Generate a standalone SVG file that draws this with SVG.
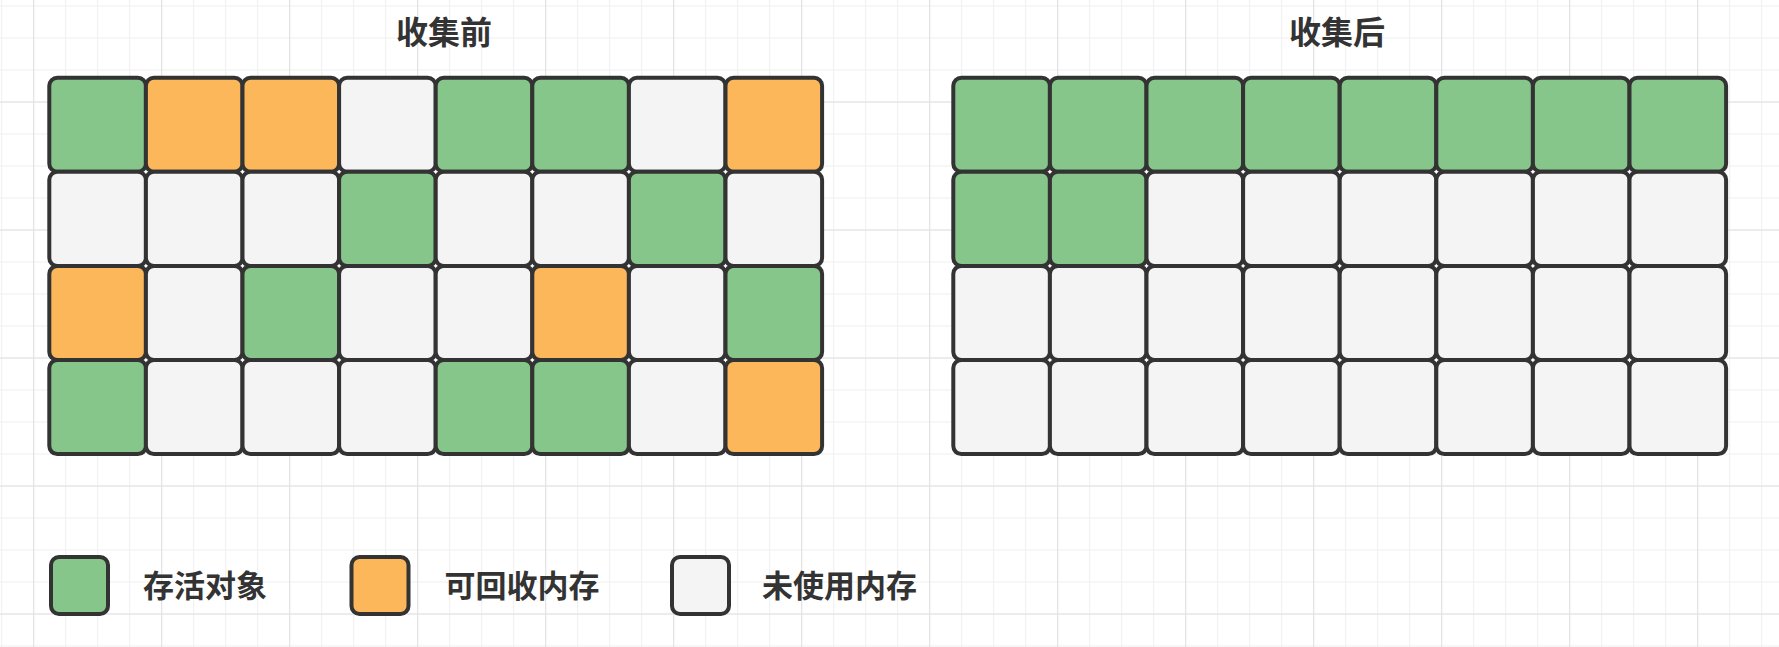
<svg xmlns="http://www.w3.org/2000/svg" width="1779" height="647" viewBox="0 0 1779 647">
<defs>
<pattern id="minor" patternUnits="userSpaceOnUse" x="1.2" y="5.5" width="32" height="32"><path d="M0.5 0V32M0 0.5H32" stroke="#efefef" stroke-width="1" fill="none"/></pattern>
<pattern id="major" patternUnits="userSpaceOnUse" x="33.2" y="101.5" width="128" height="128"><path d="M0.5 0V128M0 0.5H128" stroke="#e1e1e1" stroke-width="1" fill="none"/></pattern>
<style>
.c{stroke:#333333;stroke-width:4}
.g{fill:#86c68a}
.o{fill:#fcb75b}
.w{fill:#f4f4f4}
.t{font-family:"Noto Sans CJK SC","Noto Sans",sans-serif;fill:#333333}
.title{font-size:32px;font-weight:bold;text-anchor:middle}
.lg{font-size:31px;font-weight:bold}
</style>
</defs>
<rect width="1779" height="647" fill="#ffffff"/>
<rect width="1779" height="647" fill="url(#minor)"/>
<rect width="1779" height="647" fill="url(#major)"/>

<g id="title-before"><text class="t title" x="444" y="44">收集前</text></g>
<g id="title-after"><text class="t title" x="1337" y="44">收集后</text></g>

<g id="grid-before">
<!-- row 1: G O O W G G W O -->
<rect class="c g" x="49.3" y="77.7" width="96.6" height="94.1" rx="8"/>
<rect class="c o" x="145.9" y="77.7" width="96.6" height="94.1" rx="8"/>
<rect class="c o" x="242.5" y="77.7" width="96.6" height="94.1" rx="8"/>
<rect class="c w" x="339.1" y="77.7" width="96.6" height="94.1" rx="8"/>
<rect class="c g" x="435.7" y="77.7" width="96.6" height="94.1" rx="8"/>
<rect class="c g" x="532.3" y="77.7" width="96.6" height="94.1" rx="8"/>
<rect class="c w" x="628.9" y="77.7" width="96.6" height="94.1" rx="8"/>
<rect class="c o" x="725.5" y="77.7" width="96.6" height="94.1" rx="8"/>
<!-- row 2: W W W G W W G W -->
<rect class="c w" x="49.3" y="171.8" width="96.6" height="94.1" rx="8"/>
<rect class="c w" x="145.9" y="171.8" width="96.6" height="94.1" rx="8"/>
<rect class="c w" x="242.5" y="171.8" width="96.6" height="94.1" rx="8"/>
<rect class="c g" x="339.1" y="171.8" width="96.6" height="94.1" rx="8"/>
<rect class="c w" x="435.7" y="171.8" width="96.6" height="94.1" rx="8"/>
<rect class="c w" x="532.3" y="171.8" width="96.6" height="94.1" rx="8"/>
<rect class="c g" x="628.9" y="171.8" width="96.6" height="94.1" rx="8"/>
<rect class="c w" x="725.5" y="171.8" width="96.6" height="94.1" rx="8"/>
<!-- row 3: O W G W W O W G -->
<rect class="c o" x="49.3" y="265.9" width="96.6" height="94.1" rx="8"/>
<rect class="c w" x="145.9" y="265.9" width="96.6" height="94.1" rx="8"/>
<rect class="c g" x="242.5" y="265.9" width="96.6" height="94.1" rx="8"/>
<rect class="c w" x="339.1" y="265.9" width="96.6" height="94.1" rx="8"/>
<rect class="c w" x="435.7" y="265.9" width="96.6" height="94.1" rx="8"/>
<rect class="c o" x="532.3" y="265.9" width="96.6" height="94.1" rx="8"/>
<rect class="c w" x="628.9" y="265.9" width="96.6" height="94.1" rx="8"/>
<rect class="c g" x="725.5" y="265.9" width="96.6" height="94.1" rx="8"/>
<!-- row 4: G W W W G G W O -->
<rect class="c g" x="49.3" y="360" width="96.6" height="94.1" rx="8"/>
<rect class="c w" x="145.9" y="360" width="96.6" height="94.1" rx="8"/>
<rect class="c w" x="242.5" y="360" width="96.6" height="94.1" rx="8"/>
<rect class="c w" x="339.1" y="360" width="96.6" height="94.1" rx="8"/>
<rect class="c g" x="435.7" y="360" width="96.6" height="94.1" rx="8"/>
<rect class="c g" x="532.3" y="360" width="96.6" height="94.1" rx="8"/>
<rect class="c w" x="628.9" y="360" width="96.6" height="94.1" rx="8"/>
<rect class="c o" x="725.5" y="360" width="96.6" height="94.1" rx="8"/>
</g>

<g id="grid-after">
<!-- row 1: all G -->
<rect class="c g" x="953.3" y="77.7" width="96.6" height="94.1" rx="8"/>
<rect class="c g" x="1049.9" y="77.7" width="96.6" height="94.1" rx="8"/>
<rect class="c g" x="1146.5" y="77.7" width="96.6" height="94.1" rx="8"/>
<rect class="c g" x="1243.1" y="77.7" width="96.6" height="94.1" rx="8"/>
<rect class="c g" x="1339.7" y="77.7" width="96.6" height="94.1" rx="8"/>
<rect class="c g" x="1436.3" y="77.7" width="96.6" height="94.1" rx="8"/>
<rect class="c g" x="1532.9" y="77.7" width="96.6" height="94.1" rx="8"/>
<rect class="c g" x="1629.5" y="77.7" width="96.6" height="94.1" rx="8"/>
<!-- row 2: G G W W W W W W -->
<rect class="c g" x="953.3" y="171.8" width="96.6" height="94.1" rx="8"/>
<rect class="c g" x="1049.9" y="171.8" width="96.6" height="94.1" rx="8"/>
<rect class="c w" x="1146.5" y="171.8" width="96.6" height="94.1" rx="8"/>
<rect class="c w" x="1243.1" y="171.8" width="96.6" height="94.1" rx="8"/>
<rect class="c w" x="1339.7" y="171.8" width="96.6" height="94.1" rx="8"/>
<rect class="c w" x="1436.3" y="171.8" width="96.6" height="94.1" rx="8"/>
<rect class="c w" x="1532.9" y="171.8" width="96.6" height="94.1" rx="8"/>
<rect class="c w" x="1629.5" y="171.8" width="96.6" height="94.1" rx="8"/>
<!-- row 3: all W -->
<rect class="c w" x="953.3" y="265.9" width="96.6" height="94.1" rx="8"/>
<rect class="c w" x="1049.9" y="265.9" width="96.6" height="94.1" rx="8"/>
<rect class="c w" x="1146.5" y="265.9" width="96.6" height="94.1" rx="8"/>
<rect class="c w" x="1243.1" y="265.9" width="96.6" height="94.1" rx="8"/>
<rect class="c w" x="1339.7" y="265.9" width="96.6" height="94.1" rx="8"/>
<rect class="c w" x="1436.3" y="265.9" width="96.6" height="94.1" rx="8"/>
<rect class="c w" x="1532.9" y="265.9" width="96.6" height="94.1" rx="8"/>
<rect class="c w" x="1629.5" y="265.9" width="96.6" height="94.1" rx="8"/>
<!-- row 4: all W -->
<rect class="c w" x="953.3" y="360" width="96.6" height="94.1" rx="8"/>
<rect class="c w" x="1049.9" y="360" width="96.6" height="94.1" rx="8"/>
<rect class="c w" x="1146.5" y="360" width="96.6" height="94.1" rx="8"/>
<rect class="c w" x="1243.1" y="360" width="96.6" height="94.1" rx="8"/>
<rect class="c w" x="1339.7" y="360" width="96.6" height="94.1" rx="8"/>
<rect class="c w" x="1436.3" y="360" width="96.6" height="94.1" rx="8"/>
<rect class="c w" x="1532.9" y="360" width="96.6" height="94.1" rx="8"/>
<rect class="c w" x="1629.5" y="360" width="96.6" height="94.1" rx="8"/>
</g>

<g id="legend-live">
<rect class="c g" x="51" y="557" width="57" height="57" rx="8"/>
<text class="t lg" x="143" y="597">存活对象</text>
</g>
<g id="legend-reclaimable">
<rect class="c o" x="351.5" y="557" width="57" height="57" rx="8"/>
<text class="t lg" x="444.5" y="597">可回收内存</text>
</g>
<g id="legend-unused">
<rect class="c w" x="672" y="557" width="57" height="57" rx="8"/>
<text class="t lg" x="762" y="597">未使用内存</text>
</g>
<g id="connectors"/>
</svg>
